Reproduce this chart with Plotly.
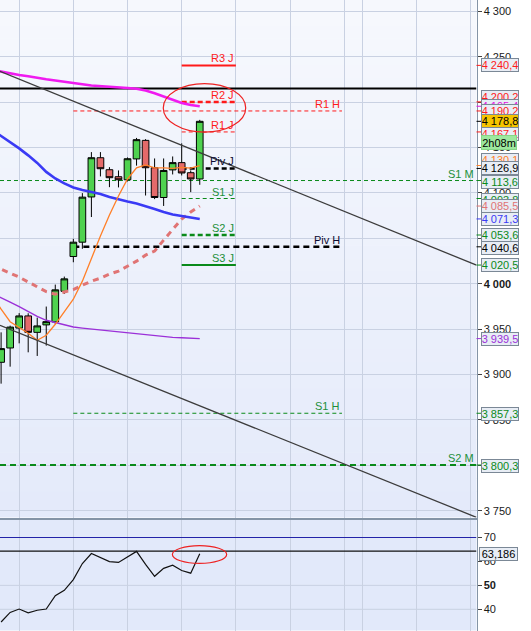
import plotly.graph_objects as go

# ---------------- data ----------------
# 4-hour candles, oldest first
bar_index = list(range(23))
opens = [3913.4, 3929.2, 3951.1, 3964.5, 3946.4, 3954.6, 3957.9, 3991.6, 4029.9, 4045.7, 4095.5, 4138.7,
         4125.5, 4117.8, 4114.4, 4137.4, 4157.8, 4127.7, 4094.9, 4125.3, 4133.3, 4122.2, 4115.3]
highs = [3946.4, 3953.8, 3967.6, 3967.4, 3962.6, 3974.8, 3999.0, 4007.8, 4049.4, 4099.7, 4144.9, 4144.9,
         4128.3, 4124.7, 4139.0, 4160.5, 4159.2, 4137.9, 4137.9, 4140.1, 4154.5, 4124.7, 4180.4]
lows = [3889.9, 3908.6, 3934.3, 3924.4, 3920.4, 3931.8, 3955.5, 3988.8, 4023.6, 4038.4, 4073.4, 4118.1,
        4106.3, 4106.0, 4112.6, 4130.0, 4097.1, 4093.1, 4085.6, 4120.3, 4119.2, 4100.8, 4108.9]
closes = [3928.5, 3952.2, 3964.5, 3946.4, 3953.5, 3958.2, 3993.2, 4005.3, 4045.7, 4095.3, 4138.7, 4126.6,
          4116.7, 4114.4, 4137.6, 4158.6, 4127.7, 4094.9, 4124.7, 4133.3, 4121.9, 4115.3, 4178.8]

# moving averages (one bar earlier than the first visible candle)
ma_index = list(range(-1, 23))
ma_magenta = [4235.5, 4233.5, 4231.6, 4229.8, 4228.4, 4226.5, 4225.1, 4223.7, 4222.6, 4221.3, 4219.6, 4218.3,
              4217.4, 4216.7, 4216.0, 4215.5, 4214.7, 4212.7, 4209.7, 4205.9, 4202.5, 4198.9, 4196.7, 4195.4]
ma_blue = [4169.4, 4162.8, 4156.2, 4149.0, 4141.3, 4133.0, 4123.1, 4115.9, 4110.4, 4106.0, 4103.2, 4101.0,
           4098.8, 4095.5, 4092.7, 4090.5, 4088.3, 4085.5, 4082.2, 4078.9, 4076.2, 4074.5, 4073.1, 4071.3]
ma_purple = [3989.5, 3984.2, 3979.6, 3974.6, 3969.1, 3964.1, 3959.7, 3957.0, 3954.2, 3952.3, 3951.1, 3950.0,
             3948.9, 3947.8, 3946.8, 3945.8, 3944.8, 3943.8, 3942.8, 3941.8, 3940.9, 3940.4, 3940.0, 3939.5]
ma_orange = [3987.3, 3971.9, 3958.1, 3952.0, 3945.4, 3937.6, 3943.2, 3955.3, 3969.6, 3982.9, 4002.8, 4028.1,
             4052.4, 4075.6, 4096.6, 4115.3, 4127.5, 4130.8, 4127.5, 4127.5, 4126.9, 4128.0, 4127.2, 4130.1]
ma_salmon = [4020.4, 4016.3, 4011.6, 4007.2, 4001.7, 3996.1, 3991.2, 3988.4, 3990.6, 3993.4, 3998.3, 4002.8,
             4006.1, 4010.5, 4013.8, 4019.3, 4024.8, 4031.4, 4035.9, 4048.0, 4060.2, 4071.2, 4078.9, 4085.5]

# RSI
rsi_values = [34.7, 38.7, 40.1, 38.5, 39.6, 40.1, 45.7, 47.9, 52.4, 59.1, 63.3, 61.6,
              59.9, 59.6, 61.9, 64.2, 58.8, 53.8, 57.1, 58.4, 56.2, 55.1, 63.186]
rsi_overbought = 70
rsi_resistance = 64.3

# pivot levels: daily (J), weekly (H), monthly (M)
daily_names = ["R3 J", "R2 J", "R1 J", "Piv J", "S1 J", "S2 J", "S3 J"]
daily_values = [4240.4, 4200.2, 4167.1, 4126.9, 4093.8, 4053.6, 4020.5]
daily_span = [20, 26]
weekly_names = ["R1 H", "Piv H", "S1 H"]
weekly_values = [4190.2, 4040.6, 3857.3]
weekly_span = [8, 37.75]
monthly_names = ["S1 M", "S2 M"]
monthly_values = [4113.6, 3800.3]
resistance_level = 4215.0

# trend lines (bar index, price)
trend_upper_x = [-0.122, 52.65]
trend_upper_y = [4233.8, 4020.4]
trend_lower_x = [-0.122, 52.65]
trend_lower_y = [3954.2, 3742.7]

# axis ticks
price_ticks = [3750, 3800, 3850, 3900, 3950, 4000, 4050, 4100, 4150, 4200, 4250, 4300]
price_ticktext = ["3 750", "3 800", "3 850", "3 900", "3 950", "<b>4 000</b>", "4 050", "4 100",
                  "4 150", "4 200", "4 250", "4 300"]
rsi_ticks = [40, 50, 60, 70]
rsi_ticktext = ["40", "<b>50</b>", "60", "70"]
time_grid = [2, 8, 14, 20, 26, 32, 38, 40, 46, 52]

# ---------------- layout geometry ----------------
W, H = 531, 631
X_RIGHT = 476.5 / W
MAIN_BOTTOM = 1 - 517.5 / H
RSI_TOP = 1 - 519.5 / H
RSI_BOTTOM = 1 - 630.5 / H
X_RANGE = [-0.122, 52.65]
Y_RANGE = [3742.5, 4312.4]
RSI_RANGE = [31.14, 77.52]

FONT = "Liberation Sans"
PANEL = "#8494a6"
GRID = "#c9d1e2"
RED = "#ff1a1a"
GREEN = "#0a8a1a"
LABEL_GREEN = "#1c8f3a"

fig = go.Figure()

# level lines as traces of their own would sit above candles; use shapes between grid and traces
shapes = []


def lerp(c0, c1, t):
    return "rgb(%d,%d,%d)" % tuple(round(a + (b - a) * t) for a, b in zip(c0, c1))


# soft vertical gradient behind the price pane
n_bands = 40
top_c, bot_c = (246, 248, 253), (228, 234, 250)
for i in range(n_bands):
    y0 = MAIN_BOTTOM + (1 - MAIN_BOTTOM) * i / n_bands
    y1 = MAIN_BOTTOM + (1 - MAIN_BOTTOM) * (i + 1) / n_bands
    shapes.append(dict(type="rect", xref="paper", yref="paper", x0=0, x1=X_RIGHT, y0=y0, y1=y1 + 0.001,
                       fillcolor=lerp(bot_c, top_c, i / (n_bands - 1)), line=dict(width=0), layer="below"))
shapes.append(dict(type="rect", xref="paper", yref="paper", x0=0, x1=X_RIGHT, y0=RSI_BOTTOM, y1=RSI_TOP,
                   fillcolor="rgb(226,233,250)", line=dict(width=0), layer="below"))

# RSI grid and reference lines
for lvl in [40, 50]:
    shapes.append(dict(type="line", xref="x2", yref="y2", x0=X_RANGE[0], x1=X_RANGE[1], y0=lvl, y1=lvl,
                       line=dict(color=GRID, width=1), layer="below"))
shapes.append(dict(type="line", xref="x2", yref="y2", x0=X_RANGE[0], x1=X_RANGE[1],
                   y0=rsi_overbought, y1=rsi_overbought, line=dict(color="#2323a8", width=1), layer="between"))
shapes.append(dict(type="line", xref="x2", yref="y2", x0=X_RANGE[0], x1=X_RANGE[1],
                   y0=rsi_resistance, y1=rsi_resistance, line=dict(color="#111111", width=1.3), layer="between"))

# daily pivots
daily_styles = [
    (RED, 2, "solid"), (RED, 2.5, "5px,3px"), (RED, 1, "4px,3px"), ("#000000", 2.5, "5px,3px"),
    (GREEN, 1, "4px,3px"), (GREEN, 2.5, "5px,3px"), (GREEN, 2, "solid"),
]
for v, (c, w, d) in zip(daily_values, daily_styles):
    shapes.append(dict(type="line", xref="x", yref="y", x0=daily_span[0], x1=daily_span[1], y0=v, y1=v,
                       line=dict(color=c, width=w, dash=d), layer="between"))
# weekly pivots
weekly_styles = [(RED, 1, "4px,3px"), ("#000000", 2.5, "6px,4px"), (GREEN, 1, "4px,3px")]
for v, (c, w, d) in zip(weekly_values, weekly_styles):
    shapes.append(dict(type="line", xref="x", yref="y", x0=weekly_span[0], x1=weekly_span[1], y0=v, y1=v,
                       line=dict(color=c, width=w, dash=d), layer="between"))
# monthly pivots, across the pane
monthly_styles = [(GREEN, 1, "4px,3px"), (GREEN, 2.2, "6px,4px")]
for v, (c, w, d) in zip(monthly_values, monthly_styles):
    shapes.append(dict(type="line", xref="x", yref="y", x0=X_RANGE[0], x1=X_RANGE[1], y0=v, y1=v,
                       line=dict(color=c, width=w, dash=d), layer="between"))
# horizontal resistance
shapes.append(dict(type="line", xref="x", yref="y", x0=X_RANGE[0], x1=X_RANGE[1],
                   y0=resistance_level, y1=resistance_level, line=dict(color="#000000", width=2),
                   layer="between"))

# highlight ellipses
shapes.append(dict(type="circle", xref="x", yref="y", x0=17.96, x1=27.09, y0=4166.9, y1=4220.2,
                   line=dict(color="#ee2222", width=1.2), layer="above"))
shapes.append(dict(type="circle", xref="x2", yref="y2", x0=18.97, x1=24.98, y0=59.2, y1=66.6,
                   line=dict(color="#ee2222", width=1.2), layer="above"))

# ---------------- traces ----------------
fig.add_trace(go.Candlestick(
    x=bar_index, open=opens, high=highs, low=lows, close=closes,
    increasing=dict(fillcolor="#4fd24f", line=dict(color="#000000", width=1)),
    decreasing=dict(fillcolor="#e46a6a", line=dict(color="#000000", width=1)),
    whiskerwidth=0, hoverinfo="skip", xaxis="x", yaxis="y",
))

fig.add_trace(go.Scatter(x=ma_index, y=ma_purple, mode="lines", line=dict(color="#9b30d8", width=1.4),
                         hoverinfo="skip"))
fig.add_trace(go.Scatter(x=ma_index, y=ma_salmon, mode="lines",
                         line=dict(color="#e07474", width=3, dash="6px,5px"), hoverinfo="skip"))
fig.add_trace(go.Scatter(x=ma_index, y=ma_blue, mode="lines", line=dict(color="#3a3af5", width=2.6),
                         hoverinfo="skip"))
fig.add_trace(go.Scatter(x=ma_index, y=ma_magenta, mode="lines", line=dict(color="#f01af0", width=2.6),
                         hoverinfo="skip"))
fig.add_trace(go.Scatter(x=ma_index, y=ma_orange, mode="lines", line=dict(color="#ff7f27", width=1.3),
                         hoverinfo="skip"))
fig.add_trace(go.Scatter(x=trend_upper_x, y=trend_upper_y, mode="lines",
                         line=dict(color="#3c3c3c", width=1.3), hoverinfo="skip"))
fig.add_trace(go.Scatter(x=trend_lower_x, y=trend_lower_y, mode="lines",
                         line=dict(color="#3c3c3c", width=1.3), hoverinfo="skip"))

fig.add_trace(go.Scatter(x=bar_index, y=rsi_values, mode="lines", line=dict(color="#111111", width=1.2),
                         xaxis="x2", yaxis="y2", hoverinfo="skip"))

# ---------------- annotations ----------------
annotations = []


def level_label(text, x, y, color):
    annotations.append(dict(x=x, y=y, xref="x", yref="y", text=text, showarrow=False,
                            xanchor="right", yanchor="bottom", yshift=-1,
                            font=dict(family=FONT, size=11, color=color)))


daily_colors = [RED, RED, RED, "#0a0a30", LABEL_GREEN, LABEL_GREEN, LABEL_GREEN]
for name, v, c in zip(daily_names, daily_values, daily_colors):
    level_label(name, daily_span[1], v, c)
for name, v, c in zip(weekly_names, weekly_values, [RED, "#0a0a30", LABEL_GREEN]):
    level_label(name, weekly_span[1], v, c)
for name, v in zip(monthly_names, monthly_values):
    level_label(name, X_RANGE[1] - 0.1, v, LABEL_GREEN)

# value tags on the price scale (drawn in stacking order)
BOX_X = 481 / W
value_tags = [
    (4240.4, "4 240,4", RED, "#e8edf5", 0),
    (4200.2, "4 200,2", RED, "#e8edf5", 5),
    (4195.4, "4 195,4", "#e010e0", "#e8edf5", 0),
    (4190.2, "4 190,2", RED, "#e8edf5", 0),
    (4178.8, "4 178,8", "#000000", "#f6c400", 0),
    (4167.1, "4 167,1", RED, "#e8edf5", -2),
    (4130.1, "4 130,1", "#ff7f27", "#e8edf5", 6),
    (4126.9, "4 126,9", "#000000", "#e8edf5", 0),
    (4113.6, "4 113,6", GREEN, "#e8edf5", -1),
    (4093.8, "4 093,8", GREEN, "#e8edf5", -1),
    (4085.5, "4 085,5", "#e07474", "#e8edf5", 0),
    (4071.3, "4 071,3", "#3a3af5", "#e8edf5", 0),
    (4053.6, "4 053,6", GREEN, "#e8edf5", 0),
    (4040.6, "4 040,6", "#000000", "#e8edf5", -1),
    (4020.5, "4 020,5", GREEN, "#e8edf5", 0),
    (3939.5, "3 939,5", "#9b30d8", "#e8edf5", 0),
    (3857.3, "3 857,3", GREEN, "#e8edf5", -1),
    (3800.3, "3 800,3", GREEN, "#e8edf5", -1),
]
for v, text, color, bg, shift in value_tags:
    shapes.append(dict(type="line", xref="paper", yref="y", x0=X_RIGHT, x1=BOX_X, y0=v, y1=v,
                       line=dict(color=color, width=1), layer="above"))
    annotations.append(dict(x=BOX_X, y=v, xref="paper", yref="y", text=text, showarrow=False,
                            xanchor="left", yanchor="middle", yshift=shift, width=36, height=12,
                            bgcolor=bg, bordercolor="#7b8896", borderwidth=1, borderpad=0,
                            font=dict(family=FONT, size=11, color=color)))
    if text == "4 167,1":
        # time remaining in the current bar, under the last price
        annotations.append(dict(x=BOX_X, y=4178.8, xref="paper", yref="y", text="2h08m", showarrow=False,
                                xanchor="left", yanchor="middle", yshift=-21, width=34, height=13,
                                bgcolor="#9ee89e", bordercolor="#86d686", borderwidth=1, borderpad=0,
                                font=dict(family=FONT, size=11, color="#000000")))

annotations.append(dict(x=478.6 / W, y=rsi_values[-1], xref="paper", yref="y2", text="63,186",
                        showarrow=False, xanchor="left", yanchor="middle", width=37, height=12,
                        bgcolor="#e8edf5", bordercolor="#7b8896", borderwidth=1, borderpad=0,
                        font=dict(family=FONT, size=11, color="#000000")))

# ---------------- layout ----------------
fig.update_layout(
    width=W, height=H, margin=dict(l=0, r=0, t=0, b=0),
    paper_bgcolor="white", plot_bgcolor="rgba(0,0,0,0)",
    showlegend=False, boxgap=0.26, boxgroupgap=0,
    font=dict(family=FONT, size=11, color="#1a1a1a"),
    xaxis=dict(domain=[0, X_RIGHT], range=X_RANGE, anchor="y", tickvals=time_grid, showticklabels=False,
               ticks="", showgrid=True, gridcolor=GRID, gridwidth=1, zeroline=False,
               showline=True, linecolor=PANEL, linewidth=1, rangeslider=dict(visible=False)),
    yaxis=dict(domain=[MAIN_BOTTOM, 1], range=Y_RANGE, anchor="x", side="right",
               tickvals=price_ticks, ticktext=price_ticktext, ticks="outside", ticklen=4,
               tickcolor="#444444", showgrid=True, gridcolor=GRID, gridwidth=1, zeroline=False,
               showline=True, linecolor=PANEL, linewidth=1,
               tickfont=dict(family=FONT, size=11, color="#1a1a1a")),
    xaxis2=dict(domain=[0, X_RIGHT], range=X_RANGE, anchor="y2", matches="x", tickvals=time_grid,
                showticklabels=False, ticks="", showgrid=True, gridcolor=GRID, gridwidth=1,
                zeroline=False, showline=True, mirror=True, linecolor=PANEL, linewidth=1),
    yaxis2=dict(domain=[RSI_BOTTOM, RSI_TOP], range=RSI_RANGE, anchor="x2", side="right",
                tickvals=rsi_ticks, ticktext=rsi_ticktext, ticks="outside", ticklen=4,
                tickcolor="#444444", showgrid=False, zeroline=False, showline=True,
                linecolor=PANEL, linewidth=1, tickfont=dict(family=FONT, size=11, color="#1a1a1a")),
    shapes=shapes,
    annotations=annotations,
)

fig.write_html("out.html")
